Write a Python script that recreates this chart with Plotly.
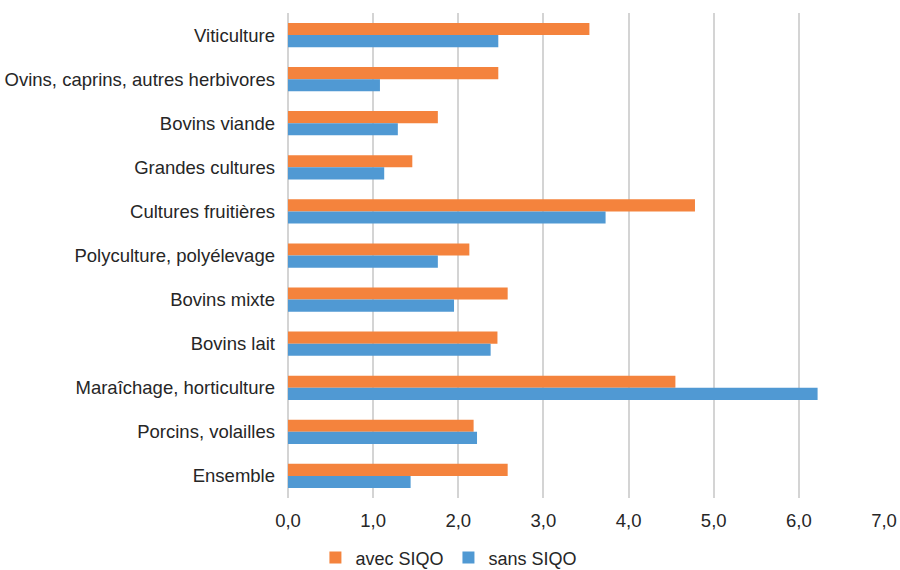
import plotly.graph_objects as go

categories = [
    "Viticulture",
    "Ovins, caprins, autres herbivores",
    "Bovins viande",
    "Grandes cultures",
    "Cultures fruitières",
    "Polyculture, polyélevage",
    "Bovins mixte",
    "Bovins lait",
    "Maraîchage, horticulture",
    "Porcins, volailles",
    "Ensemble",
]
avec_siqo = [3.54, 2.47, 1.76, 1.46, 4.78, 2.13, 2.58, 2.46, 4.55, 2.18, 2.58]
sans_siqo = [2.47, 1.08, 1.29, 1.13, 3.73, 1.76, 1.95, 2.38, 6.22, 2.22, 1.44]
x_ticks = [0, 1, 2, 3, 4, 5, 6, 7]
x_tick_labels = ["0,0", "1,0", "2,0", "3,0", "4,0", "5,0", "6,0", "7,0"]

fig = go.Figure()
fig.add_trace(go.Bar(
    name="avec SIQO", y=categories, x=avec_siqo, orientation="h",
    marker=dict(color="#F4833D", line=dict(width=0)),
))
fig.add_trace(go.Bar(
    name="sans SIQO", y=categories, x=sans_siqo, orientation="h",
    marker=dict(color="#5099D3", line=dict(width=0)),
))

fig.update_layout(
    width=900, height=570,
    margin=dict(l=288, r=16, t=13, b=72, autoexpand=False),
    paper_bgcolor="white", plot_bgcolor="white",
    barmode="group", bargap=0.45, bargroupgap=0,
    font=dict(family="Liberation Sans, Arial, sans-serif", size=18.5, color="#262626"),
    showlegend=True,
    legend=dict(
        orientation="h", x=0.27, xanchor="center", y=-0.1235, yanchor="middle",
        font=dict(size=18), itemwidth=30, tracegroupgap=0,
    ),
    xaxis=dict(
        range=[0, 7], tickvals=x_ticks, ticktext=x_tick_labels,
        showgrid=True, gridcolor="#D4D4D4", gridwidth=2,
        zeroline=True, zerolinecolor="#D4D4D4", zerolinewidth=2,
        showline=False, ticks="", fixedrange=True, ticklabelstandoff=9,
    ),
    yaxis=dict(
        autorange="reversed", showgrid=False, zeroline=False,
        showline=False, ticks="", ticklabelstandoff=12,
    ),
)

fig.write_html("out.html")
